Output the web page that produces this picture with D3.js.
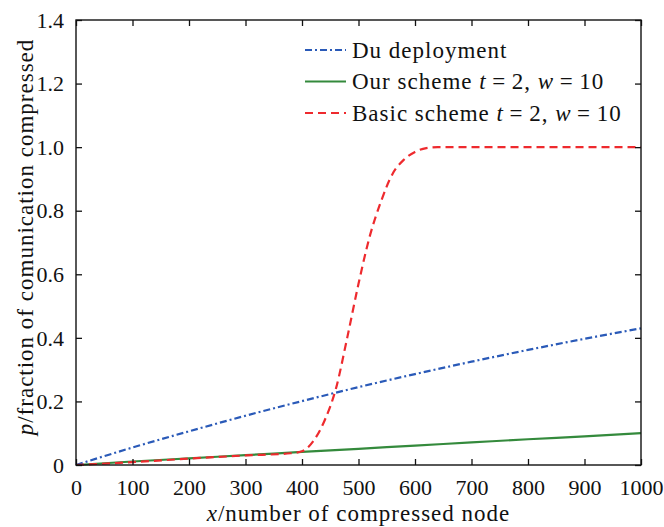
<!DOCTYPE html>
<html><head><meta charset="utf-8">
<script src="https://cdn.jsdelivr.net/npm/d3@7"></script>
</head>
<body style="margin:0;background:#fff"><svg id="c" width="664" height="527" font-family="Liberation Serif"></svg>
<script>
const xTicks = [0,100,200,300,400,500,600,700,800,900,1000];
const yTicks = [0,0.2,0.4,0.6,0.8,1.0,1.2,1.4];
const yTickLabels = ["0","0.2","0.4","0.6","0.8","1.0","1.2","1.4"];

const duX = [0,100,200,300,400,500,600,700,800,900,1000];
const duY = [0,0.055,0.106,0.155,0.201,0.245,0.286,0.325,0.362,0.397,0.430];

const ourX = [0,100,200,300,400,500,600,700,800,900,1000];
const ourY = [0,0.011,0.021,0.031,0.041,0.051,0.061,0.071,0.081,0.090,0.100];

const basicX = [0,100,200,300,380,400,420,440,460,480,500,520,540,560,580,600,620,640,700,800,900,1000];
const basicY = [0,0.009,0.020,0.030,0.037,0.043,0.075,0.14,0.24,0.40,0.57,0.72,0.83,0.915,0.96,0.985,0.997,1.0,1.0,1.0,1.0,1.0];

const seriesNames = ["Du deployment","Our scheme","Basic scheme"];

const FONT = "Liberation Serif";
const svg = d3.select("#c");
const L=76,R=641,T=20,B=465;
const x = d3.scaleLinear().domain([0,1000]).range([L,R]);
const y = d3.scaleLinear().domain([0,1.4]).range([B,T]);

const line = d3.line().x(d=>x(d[0])).y(d=>y(d[1])).curve(d3.curveMonotoneX);
const zip=(a,b)=>a.map((v,i)=>[v,b[i]]);

svg.append("path").datum(zip(ourX,ourY)).attr("d",line)
  .attr("fill","none").attr("stroke","#348a3c").attr("stroke-width",2.2);
svg.append("path").datum(zip(duX,duY)).attr("d",line)
  .attr("fill","none").attr("stroke","#2a5ab8").attr("stroke-width",2.2).attr("stroke-dasharray","7,3,2,3");
svg.append("path").datum(zip(basicX,basicY)).attr("d",line)
  .attr("fill","none").attr("stroke","#ee2a2e").attr("stroke-width",2.2).attr("stroke-dasharray","8,5");

// axes with inward ticks
const tl=6;
const gB = svg.append("g").attr("transform",`translate(0,${B})`)
  .call(d3.axisBottom(x).tickValues(xTicks).tickSizeInner(-tl).tickSizeOuter(0).tickPadding(14).tickFormat(d3.format("d")));
const gT = svg.append("g").attr("transform",`translate(0,${T})`)
  .call(d3.axisTop(x).tickValues(xTicks).tickSizeInner(-tl).tickSizeOuter(0).tickFormat(""));
const gL = svg.append("g").attr("transform",`translate(${L},0)`)
  .call(d3.axisLeft(y).tickValues(yTicks).tickSizeInner(-tl).tickSizeOuter(0).tickPadding(12).tickFormat((d,i)=>yTickLabels[i]));
const gR = svg.append("g").attr("transform",`translate(${R},0)`)
  .call(d3.axisRight(y).tickValues(yTicks).tickSizeInner(-tl).tickSizeOuter(0).tickFormat(""));
[gB,gT,gL,gR].forEach(g=>{
  g.attr("font-family",FONT).attr("font-size",22);
  g.select(".domain").remove();
  g.selectAll("line").attr("stroke","#111").attr("stroke-width",1.3);
  g.selectAll("text").attr("font-family",FONT).attr("font-size",22).attr("fill","#111");
});
gL.selectAll("text").attr("dy","0.33em");
svg.append("rect").attr("x",L).attr("y",T).attr("width",R-L).attr("height",B-T)
  .attr("fill","none").attr("stroke","#111").attr("stroke-width",1.4);

// axis labels
const xl = svg.append("text").attr("x",(L+R)/2).attr("y",521).attr("text-anchor","middle")
  .attr("font-family",FONT).attr("font-size",23).attr("letter-spacing",1).attr("fill","#111");
xl.append("tspan").attr("font-style","italic").text("x");
xl.append("tspan").text("/number of compressed node");

const yl = svg.append("text").attr("transform","translate(33,237) rotate(-90)").attr("text-anchor","middle")
  .attr("font-family",FONT).attr("font-size",23).attr("letter-spacing",1).attr("fill","#111");
yl.append("tspan").attr("font-style","italic").text("p");
yl.append("tspan").text("/fraction of comunication compressed");

// legend
const leg = [
  {parts:[["Du deployment",false]], color:"#2a5ab8", dash:"7,3,2,3"},
  {parts:[["Our scheme ",false],["t",true],["\u2009=\u20092, ",false],["w",true],["\u2009=\u200910",false]], color:"#348a3c", dash:null},
  {parts:[["Basic scheme ",false],["t",true],["\u2009=\u20092, ",false],["w",true],["\u2009=\u200910",false]], color:"#ee2a2e", dash:"8,5"}
];
leg.forEach((d,i)=>{
  const ly = 50 + i*31.5;
  const ln = svg.append("line").attr("x1",305).attr("x2",346).attr("y1",ly).attr("y2",ly)
    .attr("stroke",d.color).attr("stroke-width",2.2);
  if(d.dash) ln.attr("stroke-dasharray",d.dash);
  const t = svg.append("text").attr("x",352).attr("y",ly+7.5)
    .attr("font-family",FONT).attr("font-size",23).attr("letter-spacing",1).attr("fill","#111");
  d.parts.forEach(p=>{ t.append("tspan").attr("font-style",p[1]?"italic":"normal").text(p[0]); });
});
</script></body></html>
